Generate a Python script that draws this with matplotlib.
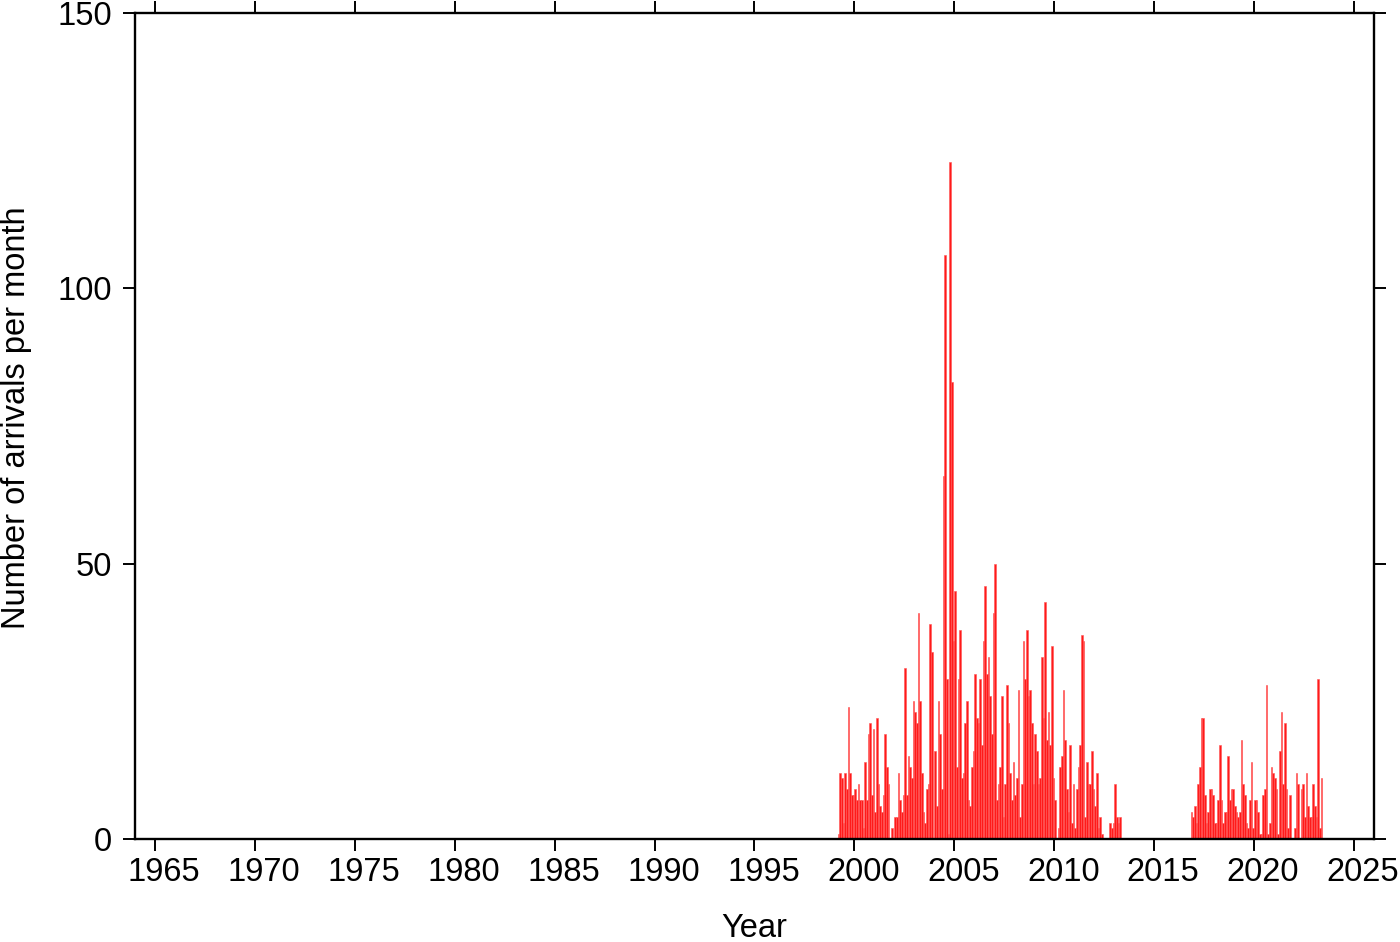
import numpy as np
import matplotlib
matplotlib.use("Agg")
import matplotlib.pyplot as plt
from matplotlib.transforms import ScaledTranslation

plt.rcParams["font.family"] = ["Liberation Sans", "DejaVu Sans"]

# monthly arrival counts, first block starts Jan 1999
counts_1999 = [
    0, 0, 1, 12, 11, 3, 12, 9, 24, 12, 8, 8,          # 1999
    9, 7, 10, 7, 7, 2, 14, 7, 19, 21, 8, 20,          # 2000
    5, 22, 10, 6, 5, 8, 19, 13, 10, 0, 2, 0,          # 2001
    4, 4, 12, 7, 5, 8, 31, 8, 15, 13, 11, 25,         # 2002
    23, 21, 41, 25, 12, 5, 3, 9, 10, 39, 34, 0,       # 2003
    16, 6, 25, 19, 9, 66, 106, 29, 1, 123, 83, 36,    # 2004
    45, 13, 29, 38, 11, 12, 21, 25, 7, 6, 13, 16,     # 2005
    30, 22, 21, 29, 17, 36, 46, 30, 33, 26, 19, 41,   # 2006
    50, 7, 10, 13, 26, 4, 10, 28, 21, 12, 7, 14,      # 2007
    8, 11, 27, 4, 10, 36, 29, 38, 26, 27, 21, 10,     # 2008
    19, 16, 10, 11, 33, 22, 43, 18, 23, 17, 35, 11,   # 2009
    7, 0, 2, 13, 15, 27, 18, 9, 5, 17, 3, 10,         # 2010
    2, 9, 13, 17, 37, 36, 4, 14, 10, 10, 16, 9,       # 2011
    6, 12, 2, 4, 1, 0, 0, 0, 0, 3, 2, 3,              # 2012
    10, 4, 3, 4,                                      # 2013
]
start_1999 = 1999.0

# second block starts Nov 2016
counts_2016 = [
    5, 4,                                             # 2016
    6, 3, 10, 13, 22, 22, 8, 3, 5, 9, 9, 8,           # 2017
    3, 3, 7, 17, 7, 3, 5, 5, 15, 7, 9, 9,             # 2018
    6, 5, 4, 5, 18, 10, 8, 3, 2, 7, 14, 2,            # 2019
    7, 7, 5, 1, 1, 8, 9, 28, 1, 3, 13, 12,            # 2020
    11, 9, 1, 16, 23, 10, 21, 9, 2, 8, 0, 0,          # 2021
    2, 12, 10, 0, 9, 10, 4, 12, 6, 4, 4, 10,          # 2022
    6, 4, 29, 2, 11,                                  # 2023
]
start_2016 = 2016 + 10 / 12

x_ticks = list(range(1965, 2030, 5))
y_ticks = [0, 50, 100, 150]


def main():
    fig = plt.figure(figsize=(14, 9.42), dpi=100)
    ax = fig.add_axes([0.0964, 0.1093, 0.885, 0.877])

    for start, counts in ((start_1999, counts_1999), (start_2016, counts_2016)):
        t = start + np.arange(len(counts)) / 12
        ax.bar(t, counts, width=1 / 12, align="edge",
               color="#ff1a1a", edgecolor="#ff5555", linewidth=0.4)

    ax.set_xlim(1964, 2026)
    ax.set_ylim(0, 150)
    ax.set_xticks(x_ticks)
    ax.set_yticks(y_ticks)

    for s in ax.spines.values():
        s.set_linewidth(1.7)
    ax.tick_params(direction="out", length=8.6, width=1.4, labelsize=23.5,
                   top=True, right=True)
    ax.tick_params(axis="x", pad=4.3)
    ax.tick_params(axis="y", pad=8)

    # year labels sit a bit right of their ticks in the original
    shift = ScaledTranslation(0.09, 0, fig.dpi_scale_trans)
    for lab in ax.get_xticklabels():
        lab.set_transform(lab.get_transform() + shift)

    ax.set_xlabel("Year", fontsize=23.5)
    ax.set_ylabel("Number of arrivals per month", fontsize=23.5)
    ax.xaxis.set_label_coords(0.5, -0.089)
    ax.yaxis.set_label_coords(-0.0835, 0.51)

    fig.savefig("out.png", dpi=100)
    plt.close(fig)


if __name__ == "__main__":
    main()
